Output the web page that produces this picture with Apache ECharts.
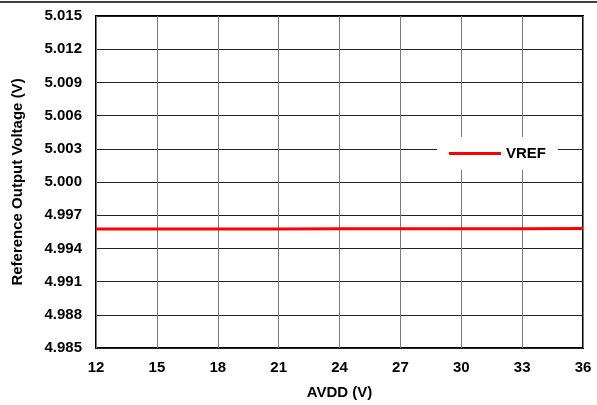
<!DOCTYPE html>
<html>
<head>
<meta charset="utf-8">
<script src="https://cdn.jsdelivr.net/npm/echarts@6/dist/echarts.min.js"></script>
<style>
  html, body { margin: 0; padding: 0; background: #fff; }
  #main { width: 597px; height: 405px; }
</style>
</head>
<body>
<div id="main"></div>
<script>
// AVDD sweep (V) and measured VREF (V)
var avdd = [12, 15, 18, 21, 24, 27, 30, 33, 36];
var vref = [4.99575, 4.99575, 4.99576, 4.99576, 4.99577, 4.99577, 4.99578, 4.99578, 4.99579];
var yTicks = ['4.985', '4.988', '4.991', '4.994', '4.997', '5.000', '5.003', '5.006', '5.009', '5.012', '5.015'];

var points = avdd.map(function (x, i) { return [x, vref[i]]; });
var font = 'Liberation Sans, Arial, sans-serif';

var myChart = echarts.init(document.getElementById('main'));
var option = {
  animation: false,
  backgroundColor: '#fff',
  grid: {
    left: 96,
    right: 14,
    top: 16,
    bottom: 57,
    show: true,
    borderColor: '#000',
    borderWidth: 2,
    backgroundColor: 'transparent'
  },
  legend: {
    left: 437,
    top: 137,
    width: 121,
    padding: [9, 12, 9, 12],
    backgroundColor: '#fff',
    icon: 'rect',
    itemWidth: 52,
    itemHeight: 3,
    itemGap: 4,
    textStyle: { fontFamily: font, fontWeight: 'bold', fontSize: 15, color: '#000' },
    data: ['VREF']
  },
  xAxis: {
    type: 'value',
    min: 12,
    max: 36,
    interval: 3,
    name: 'AVDD (V)',
    nameLocation: 'middle',
    nameGap: 37,
    nameTextStyle: { fontFamily: font, fontWeight: 'bold', fontSize: 15, color: '#000' },
    axisLine: { show: false },
    axisTick: { show: false },
    axisLabel: { fontFamily: font, fontWeight: 'bold', fontSize: 15, color: '#000', margin: 12 },
    splitLine: { show: true, lineStyle: { color: '#7a7a7a', width: 1 } }
  },
  yAxis: {
    type: 'value',
    min: 4.985,
    max: 5.015,
    interval: 0.003,
    name: 'Reference Output Voltage (V)',
    nameLocation: 'middle',
    nameGap: 71,
    nameTextStyle: { fontFamily: font, fontWeight: 'bold', fontSize: 15, color: '#000' },
    axisLine: { show: false },
    axisTick: { show: false },
    axisLabel: {
      fontFamily: font, fontWeight: 'bold', fontSize: 15, color: '#000', margin: 14,
      formatter: function (v) {
        var idx = Math.round((v - 4.985) / 0.003);
        return yTicks[idx] !== undefined ? yTicks[idx] : v.toFixed(3);
      }
    },
    splitLine: { show: true, lineStyle: { color: '#222', width: 1 } }
  },
  series: [{
    name: 'VREF',
    type: 'line',
    symbol: 'none',
    lineStyle: { color: '#ff0000', width: 3 },
    itemStyle: { color: '#ff0000' },
    data: points,
    z: 3
  }],
  graphic: [{
    type: 'line',
    shape: { x1: 0, y1: 2, x2: 597, y2: 2 },
    style: { stroke: '#000', lineWidth: 1.5 }
  }]
};
myChart.setOption(option);
</script>
</body>
</html>
